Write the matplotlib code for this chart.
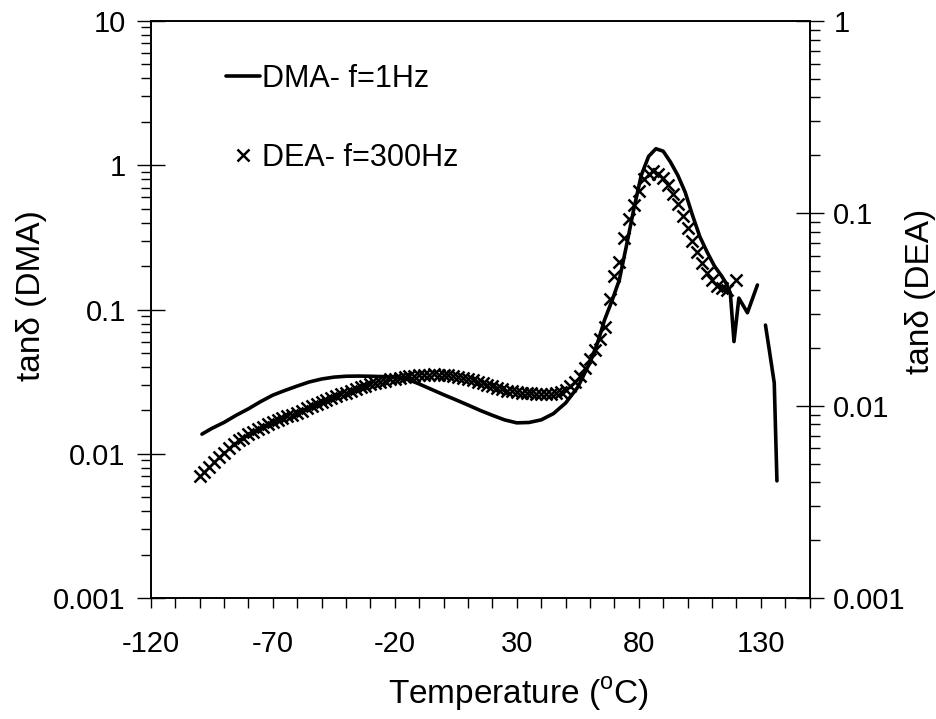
import numpy as np
import matplotlib
matplotlib.use('Agg')
from matplotlib import pyplot as plt

plt.rcParams['font.family'] = ['Liberation Sans', 'DejaVu Sans']
plt.rcParams['mathtext.fontset'] = 'custom'
plt.rcParams['mathtext.rm'] = 'Liberation Sans'
plt.rcParams['axes.unicode_minus'] = False

# DMA tan delta, f = 1 Hz (left axis); NaN marks the gap in the curve
dma_temp = [-99, -95, -90, -85, -80, -75, -70, -65, -60, -55, -50, -45, -40, -35,
            -30, -25, -20, -15, -10, -5, 0, 5, 10, 15, 20, 25, 30, 35, 40, 45, 50,
            55, 60, 63, 66, 69, 72, 75, 78, 81, 84, 87, 90, 93, 96, 99, 102, 105,
            108, 111, 114, 116, 117.5, 119, 121, 124.5, 128.6, 130,
            131.9, 133.5, 135.5, 136.6]
dma_tan = [0.0137, 0.0150, 0.0165, 0.0185, 0.0205, 0.0230, 0.0255, 0.0275, 0.0295,
           0.0315, 0.0330, 0.0340, 0.0345, 0.0346, 0.0345, 0.0343, 0.0340, 0.0330,
           0.0305, 0.0280, 0.0257, 0.0237, 0.0218, 0.0200, 0.0185, 0.0172, 0.0164,
           0.0165, 0.0172, 0.0190, 0.0225, 0.0290, 0.0430, 0.0580, 0.085, 0.115,
           0.16, 0.28, 0.50, 0.85, 1.15, 1.30, 1.25, 1.05, 0.85, 0.65, 0.45, 0.32,
           0.25, 0.20, 0.17, 0.150, 0.13, 0.06, 0.12, 0.095, 0.148, np.nan,
           0.078, 0.052, 0.031, 0.0065]

# DEA tan delta, f = 300 Hz (right axis)
dea_temp = [-100, -98, -96, -94, -92, -90, -88, -86, -84, -82, -80, -78, -76, -74,
            -72, -70, -68, -66, -64, -62, -60, -58, -56, -54, -52, -50, -48, -46,
            -44, -42, -40, -38, -36, -34, -32, -30, -28, -26, -24, -22, -20, -18,
            -16, -14, -12, -10, -8, -6, -4, -2, 0, 2, 4, 6, 8, 10, 12, 14, 16, 18,
            20, 22, 24, 26, 28, 30, 32, 34, 36, 38, 40, 42, 44, 46, 48, 50, 52, 54,
            56, 58, 60, 62, 64, 66, 68, 70, 72, 74, 76, 78, 80, 82, 84, 86, 88, 90,
            92, 94, 96, 98, 100, 102, 104, 106, 108, 110, 112, 114, 116, 120]
dea_tan = [0.0043, 0.0045, 0.0048, 0.0051, 0.0054, 0.0057, 0.0060, 0.0063, 0.0066,
           0.0068, 0.0071, 0.0073, 0.0076, 0.0078, 0.0080, 0.0082, 0.0084, 0.0086,
           0.0088, 0.0090, 0.0092, 0.0094, 0.0097, 0.0100, 0.0102, 0.0105, 0.0107,
           0.0110, 0.0112, 0.0115, 0.0117, 0.0120, 0.0122, 0.0125, 0.0127, 0.0129,
           0.0131, 0.0133, 0.0135, 0.0137, 0.0138, 0.0140, 0.0141, 0.0142, 0.0143,
           0.0144, 0.0145, 0.0145, 0.0146, 0.0145, 0.0145, 0.0144, 0.0143, 0.0141,
           0.0140, 0.0138, 0.0136, 0.0133, 0.0131, 0.0128, 0.0126, 0.0124, 0.0122,
           0.0120, 0.0119, 0.0118, 0.0117, 0.0116, 0.0116, 0.0115, 0.0115, 0.0115,
           0.0115, 0.0116, 0.0118, 0.0121, 0.0126, 0.0133, 0.0143, 0.0157, 0.0175,
           0.0196, 0.0222, 0.0258, 0.0360, 0.0470, 0.0560, 0.0740, 0.0930, 0.110,
           0.130, 0.150, 0.160, 0.165, 0.160, 0.152, 0.140, 0.126, 0.112, 0.097,
           0.084, 0.072, 0.063, 0.055, 0.049, 0.045, 0.042, 0.041, 0.040, 0.045]

x_ticks = [-120, -70, -20, 30, 80, 130]
left_ticks = [0.001, 0.01, 0.1, 1, 10]
left_labels = ['0.001', '0.01', '0.1', '1', '10']
right_ticks = [0.001, 0.01, 0.1, 1]
right_labels = ['0.001', '0.01', '0.1', '1']

fig = plt.figure(figsize=(9.36, 7.19), dpi=100)
ax = fig.add_axes([0.161, 0.168, 0.704, 0.803])
ax2 = ax.twinx()

line, = ax.plot(dma_temp, dma_tan, color='black', lw=2.6, solid_capstyle='round')
pts, = ax2.plot(dea_temp, dea_tan, ls='none', marker='x', ms=9, mew=1.8, color='black')

ax.set_xlim(-120, 150)
ax.set_yscale('log')
ax.set_ylim(0.001, 10)
ax2.set_yscale('log')
ax2.set_ylim(0.001, 1)

ax.set_xticks(x_ticks)
ax.set_xticks(np.arange(-120, 151, 10), minor=True)
ax.set_yticks(left_ticks)
ax.set_yticklabels(left_labels)
ax2.set_yticks(right_ticks)
ax2.set_yticklabels(right_labels)

ax.tick_params(axis='x', which='both', direction='out', length=7, width=1, labelsize=21, pad=16)
ax.tick_params(axis='y', which='major', direction='inout', length=20, width=1, labelsize=21, pad=8)
ax.tick_params(axis='y', which='minor', direction='out', length=7, width=1)
ax2.tick_params(axis='y', which='major', direction='inout', length=20, width=1, labelsize=21, pad=7)
ax2.tick_params(axis='y', which='minor', direction='out', length=7, width=1)

for a in (ax, ax2):
    for s in a.spines.values():
        s.set_linewidth(1.2)

ax.set_xlabel('Temperature ($^\\mathregular{o}$C)', fontsize=24)
ax.set_ylabel('tanδ (DMA)', fontsize=24)
ax2.set_ylabel('tanδ (DEA)', fontsize=24)
ax.xaxis.set_label_coords(0.558, -0.134)
ax.yaxis.set_label_coords(-0.158, 0.525)
ax2.yaxis.set_label_coords(1.144, 0.532)

ax.legend([line, pts], ['DMA- f=1Hz', 'DEA- f=300Hz'], loc='upper left',
          bbox_to_anchor=(0.115, 0.925), frameon=False, fontsize=22,
          handlelength=1.1, handletextpad=0.05, labelspacing=1.6,
          borderpad=0, borderaxespad=0)

fig.savefig('out.png', dpi=100)
